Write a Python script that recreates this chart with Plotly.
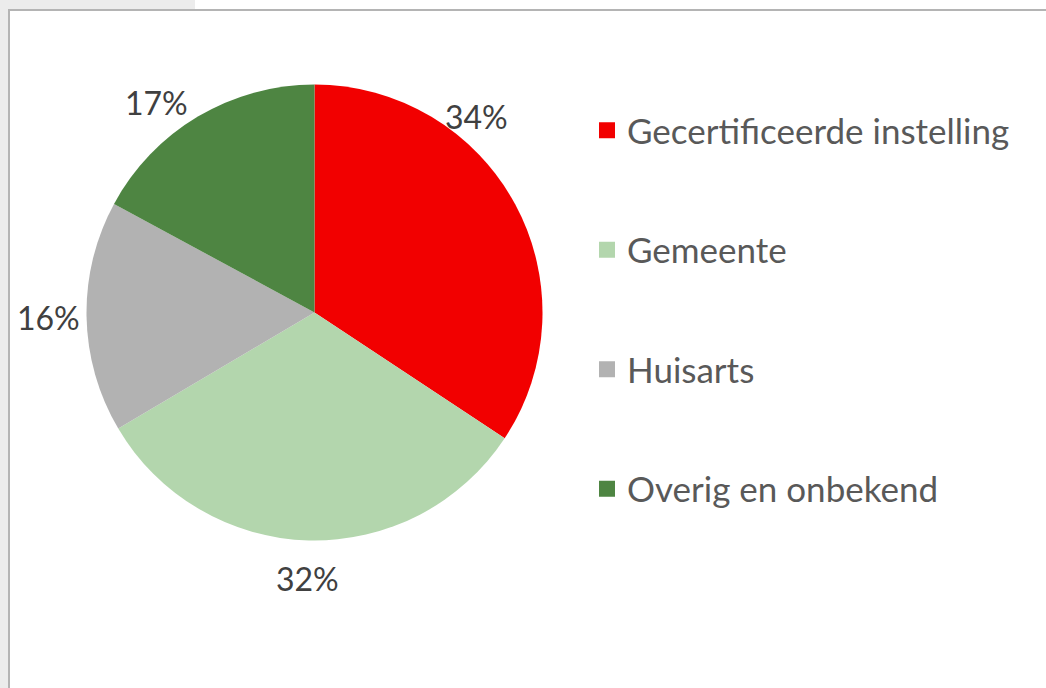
import math
import plotly.graph_objects as go

categories = ["Gecertificeerde instelling", "Gemeente", "Huisarts", "Overig en onbekend"]
values = [34.3, 32.2, 16.4, 17.1]
colors = ["#F20000", "#B3D6AD", "#B2B2B2", "#4E8542"]

W, H = 1046, 688
FONT = "Lato"

# pie geometry (px)
cx, cy, r = 314.5, 312.5, 228

# label placement (Excel "best fit"): fraction along slice and radial padding
label_frac = [0.32, 0.5, 0.5, 0.40]
label_pad = [-7, 20, 7, 2]
label_w, label_h = 62, 34

fig = go.Figure()
fig.add_trace(go.Pie(
    labels=categories,
    values=values,
    sort=False,
    direction="clockwise",
    rotation=0,
    marker=dict(colors=colors, line=dict(width=0)),
    textinfo="none",
    showlegend=False,
    hoverinfo="label+percent",
    domain=dict(x=[(cx - r) / W, (cx + r) / W], y=[1 - (cy + r) / H, 1 - (cy - r) / H]),
))

# percentage labels derived from the values
total = sum(values)
annotations = []
cum = 0.0
for v, fr, pad in zip(values, label_frac, label_pad):
    theta = 2 * math.pi * (cum + v * fr) / total
    cum += v
    ux, uy = math.sin(theta), -math.cos(theta)
    ext = abs(ux) * label_w / 2 + abs(uy) * label_h / 2
    d = r + pad + ext
    px, py = cx + ux * d, cy + uy * d
    annotations.append(dict(
        x=px / W, y=1 - py / H, xref="paper", yref="paper",
        text=f"{round(100 * v / total)}%", showarrow=False,
        xanchor="center", yanchor="middle",
        font=dict(family=FONT, size=32, color="#404040"),
    ))

# legend entries (square swatches), one group per category for spacing
for name, col in zip(categories, colors):
    fig.add_trace(go.Scatter(
        x=[None], y=[None], mode="markers", name=name, legendgroup=name,
        marker=dict(symbol="square", size=20, color=col),
        hoverinfo="skip",
    ))

fig.update_layout(
    width=W, height=H,
    margin=dict(l=0, r=0, t=0, b=0),
    paper_bgcolor="white",
    plot_bgcolor="white",
    xaxis=dict(visible=False), yaxis=dict(visible=False),
    annotations=annotations,
    legend=dict(
        x=587 / W, y=1 - 101 / H, xanchor="left", yanchor="top",
        font=dict(family=FONT, size=35, color="#595959"),
        tracegroupgap=71, itemsizing="trace",
        bgcolor="rgba(0,0,0,0)",
    ),
    shapes=[
        dict(type="rect", xref="paper", yref="paper", x0=-0.01, x1=9 / W, y0=-0.01, y1=1.01,
             fillcolor="#ECECEC", line=dict(width=0), layer="below"),
        dict(type="rect", xref="paper", yref="paper", x0=-0.01, x1=195 / W, y0=1 - 10 / H, y1=1.01,
             fillcolor="#ECECEC", line=dict(width=0), layer="below"),
        dict(type="rect", xref="paper", yref="paper", x0=9 / W, x1=1.05, y0=-0.05, y1=1 - 10 / H,
             fillcolor="white", line=dict(width=2, color="#B4B4B4"), layer="below"),
    ],
)

fig.write_html("out.html", config={"displayModeBar": False},
               post_script="document.body.style.margin='0px';")
